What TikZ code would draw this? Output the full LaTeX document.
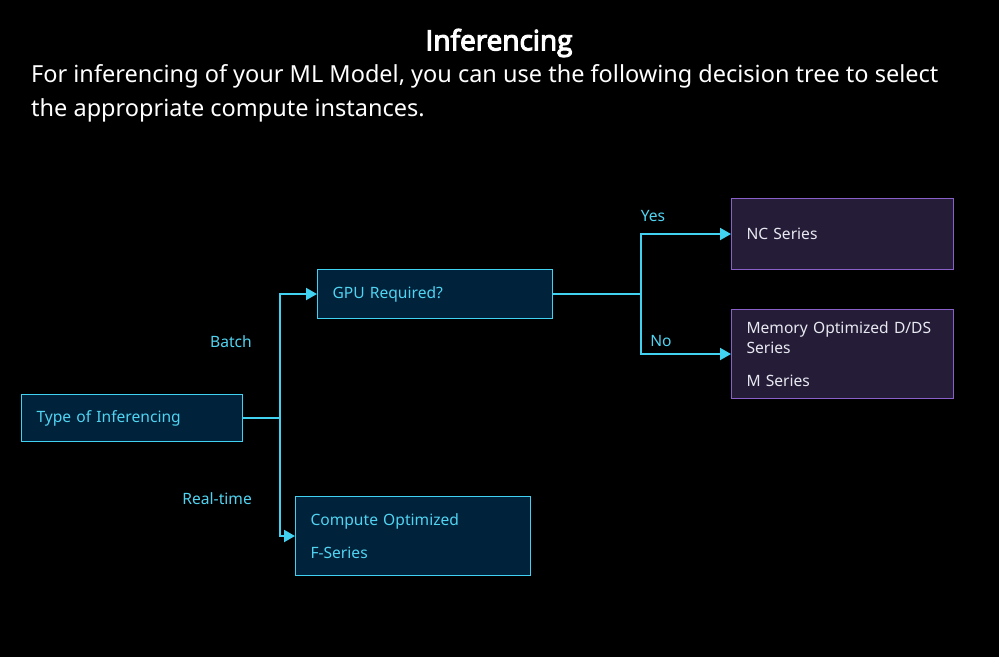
\documentclass[tikz,border=0pt]{standalone}
\usepackage{fontspec}
\setmainfont{Noto Sans}
\newfontfamily\titlefont{Open Sans}[FakeBold=4]
\usetikzlibrary{arrows.meta,positioning,calc}

\definecolor{cyanline}{RGB}{64,210,240}
\definecolor{cyantext}{RGB}{80,212,242}
\definecolor{navyfill}{RGB}{0,34,58}
\definecolor{purpline}{RGB}{136,96,200}
\definecolor{purpfill}{RGB}{37,28,56}
\definecolor{paletext}{RGB}{232,232,240}

\begin{document}
\begin{tikzpicture}[x=1pt, y=-1pt, >={Triangle[length=11pt,width=12pt]},
	qbox/.style={draw=cyanline, line width=1pt, fill=navyfill, text=cyantext,
		font=\fontsize{15.6}{20}\selectfont, anchor=north west, align=left,
		inner xsep=15pt, inner ysep=0pt},
	abox/.style={qbox, draw=purpline, fill=purpfill, text=paletext},
	lbl/.style={text=cyantext, font=\fontsize{15.6}{20}\selectfont, inner sep=0pt},
	link/.style={draw=cyanline, line width=2pt}]
	
	% 1. Nền đen
	\fill[black] (0,0) rectangle (999,657);
	\useasboundingbox (0,0) rectangle (999,657);
	
	% 2. Tiêu đề và lời dẫn
	\node[text=white, font=\titlefont\fontsize{28}{32}\selectfont] (title) at (499,43) {Inferencing};
	\node[anchor=west, align=left, text=white, inner sep=0pt,
		font=\fontsize{23.5}{34}\selectfont] (intro) at (31,93)
		{For inferencing of your ML Model, you can use the following decision tree to select\\
		 the appropriate compute instances.};
	
	% 3. Các hộp
	\node[qbox, text width=191pt, minimum height=47pt] (type) at (21,394) {Type of Inferencing};
	\node[qbox, text width=205pt, minimum height=49pt] (gpu) at (317,269) {GPU Required?};
	\node[qbox, text width=205pt, minimum height=79pt] (comp) at (295,496)
		{Compute Optimized\\[13pt]F-Series};
	\node[abox, text width=192pt, minimum height=71pt] (nc) at (731,198) {NC Series};
	\node[abox, text width=192pt, minimum height=89pt] (mem) at (731,309)
		{Memory Optimized D/DS\\Series\\[13pt]M Series};
	
	% 4. Các nhánh
	\coordinate (split1) at ($(type.east)+(37,0)$);
	\coordinate (split2) at ($(gpu.east)+(88,0)$);
	\draw[link] (type.east) -- (split1);
	\draw[link, ->] (split1) |- (gpu.west);
	\draw[link, ->] (split1) |- (comp.west);
	\draw[link] (gpu.east) -- (split2);
	\draw[link, ->] (split2) |- (nc.west);
	\draw[link, ->] (split2) |- (mem.west);
	
	% 5. Nhãn nhánh
	\node[lbl, anchor=east] (batch) at (252,342) {Batch};
	\node[lbl, anchor=east] (rt) at (252,499) {Real-time};
	\node[lbl] (yes) at (653,216) {Yes};
	\node[lbl] (no) at (661,341) {No};
	
\end{tikzpicture}
\end{document}
